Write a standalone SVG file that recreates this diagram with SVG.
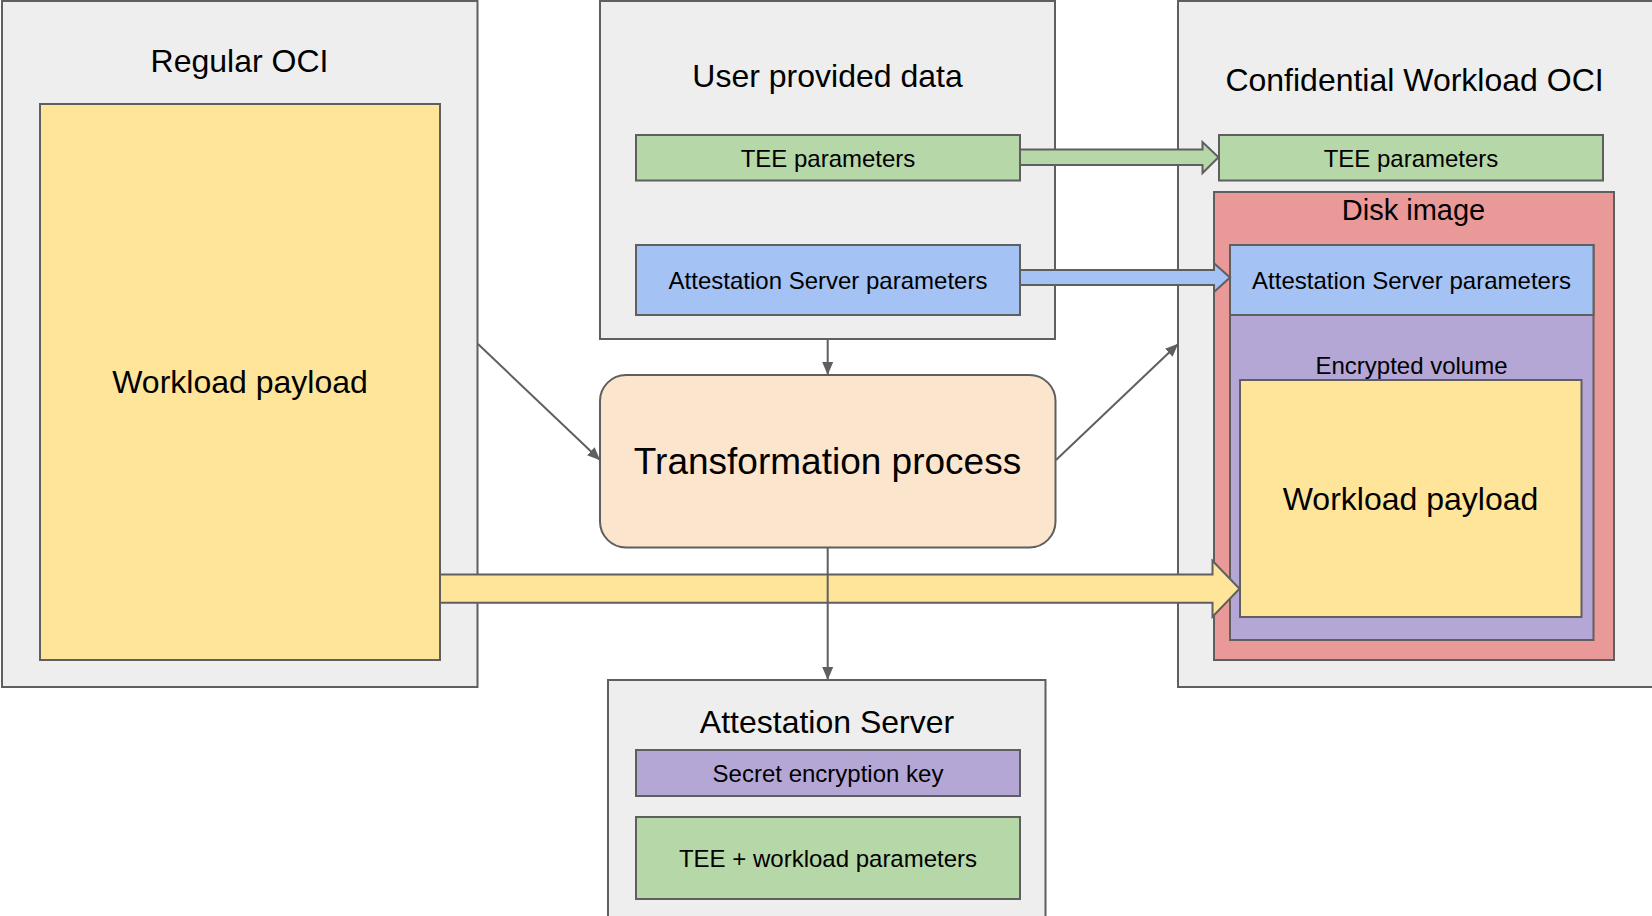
<svg xmlns="http://www.w3.org/2000/svg" width="1652" height="916" viewBox="0 0 1652 916">
  <defs>
    <style>
      text { font-family: "Liberation Sans", Arial, sans-serif; fill: #000; text-anchor: middle; }
      .box { stroke: #5f5f5f; stroke-width: 2; }
      .grey { fill: #eeeeee; }
      .yellow { fill: #ffe599; }
      .green { fill: #b6d7a8; }
      .blue { fill: #a4c2f4; }
      .purple { fill: #b4a7d6; }
      .red { fill: #ea9999; }
      .peach { fill: #fce5cd; }
      .t24 { font-size: 24px; }
      .t32 { font-size: 32px; }
      .wire { fill: none; stroke: #5f5f5f; stroke-width: 2; marker-end: url(#head); }
      .fat { stroke: #5f5f5f; stroke-width: 2; stroke-linejoin: miter; }
    </style>
    <marker id="head" markerUnits="userSpaceOnUse" markerWidth="13" markerHeight="11" refX="12" refY="5.5" orient="auto">
      <path d="M0,0 L13,5.5 L0,11 z" fill="#5f5f5f"/>
    </marker>
  </defs>

  <rect width="1652" height="916" fill="#ffffff"/>

  <!-- Source image -->
  <g id="regular-oci">
    <rect class="box grey" x="2" y="1" width="475.5" height="686"/>
    <text class="t32" x="239.5" y="72">Regular OCI</text>
  </g>
  <g id="regular-payload">
    <rect class="box yellow" x="40" y="104" width="400" height="556"/>
    <text class="t32" x="240" y="393">Workload payload</text>
  </g>

  <!-- User inputs -->
  <g id="user-data">
    <rect class="box grey" x="600" y="1" width="455" height="338"/>
    <text class="t32" x="827.5" y="87">User provided data</text>
  </g>
  <g id="user-tee-params">
    <rect class="box green" x="636" y="135" width="384" height="45.5"/>
    <text class="t24" x="828" y="166.5">TEE parameters</text>
  </g>
  <g id="user-as-params">
    <rect class="box blue" x="636" y="245" width="384" height="70"/>
    <text class="t24" x="828" y="288.5">Attestation Server parameters</text>
  </g>

  <!-- Transformation -->
  <g id="transformation">
    <rect class="box peach" x="600" y="375" width="455.5" height="172.5" rx="26" ry="26"/>
    <text x="827.5" y="474" style="font-size:37px">Transformation process</text>
  </g>

  <!-- Result image -->
  <g id="confidential-oci">
    <rect class="box grey" x="1178" y="1" width="500" height="686"/>
    <text class="t32" x="1414.5" y="90.5">Confidential Workload OCI</text>
  </g>
  <g id="cw-tee-params">
    <rect class="box green" x="1219" y="135" width="384" height="45.5"/>
    <text class="t24" x="1411" y="166.5">TEE parameters</text>
  </g>
  <g id="disk-image">
    <rect class="box red" x="1214" y="192" width="400" height="468"/>
    <text x="1413.5" y="220" style="font-size:29px">Disk image</text>
  </g>
  <g id="encrypted-volume">
    <rect class="box purple" x="1230" y="245" width="363.5" height="395"/>
    <text class="t24" x="1411.5" y="374">Encrypted volume</text>
  </g>
  <g id="cw-as-params">
    <rect class="box blue" x="1230" y="245" width="363.5" height="70"/>
    <text class="t24" x="1411.5" y="288.5">Attestation Server parameters</text>
  </g>
  <g id="cw-payload">
    <rect class="box yellow" x="1240" y="380" width="341.5" height="237"/>
    <text class="t32" x="1410.5" y="510">Workload payload</text>
  </g>

  <!-- Attestation server -->
  <g id="attestation-server">
    <rect class="box grey" x="608" y="680" width="437.5" height="260"/>
    <text class="t32" x="827" y="733">Attestation Server</text>
  </g>
  <g id="secret-key">
    <rect class="box purple" x="636" y="750" width="384" height="46"/>
    <text class="t24" x="828" y="781.5">Secret encryption key</text>
  </g>
  <g id="tee-workload-params">
    <rect class="box green" x="636" y="817" width="384" height="82"/>
    <text class="t24" x="828" y="866.5">TEE + workload parameters</text>
  </g>

  <!-- Connectors -->
  <g id="connectors">
    <polygon class="fat green" points="1020,149.5 1202.5,149.5 1202.5,142 1218.5,157.3 1202.5,173 1202.5,165 1020,165"/>
    <polygon class="fat blue" points="1020,270 1214,270 1214,263.3 1230,277.6 1214,292 1214,285 1020,285"/>
    <polygon class="fat yellow" points="440,574.5 1212.5,574.5 1212.5,560.7 1239.5,588.7 1212.5,616.7 1212.5,602.8 440,602.8"/>
    <path class="wire" d="M827.7,339 V374"/>
    <path class="wire" d="M827.7,547.5 V679"/>
    <path class="wire" d="M478,344 L599.5,459.5"/>
    <path class="wire" d="M1056,460 L1177.5,344.5"/>
  </g>
</svg>
